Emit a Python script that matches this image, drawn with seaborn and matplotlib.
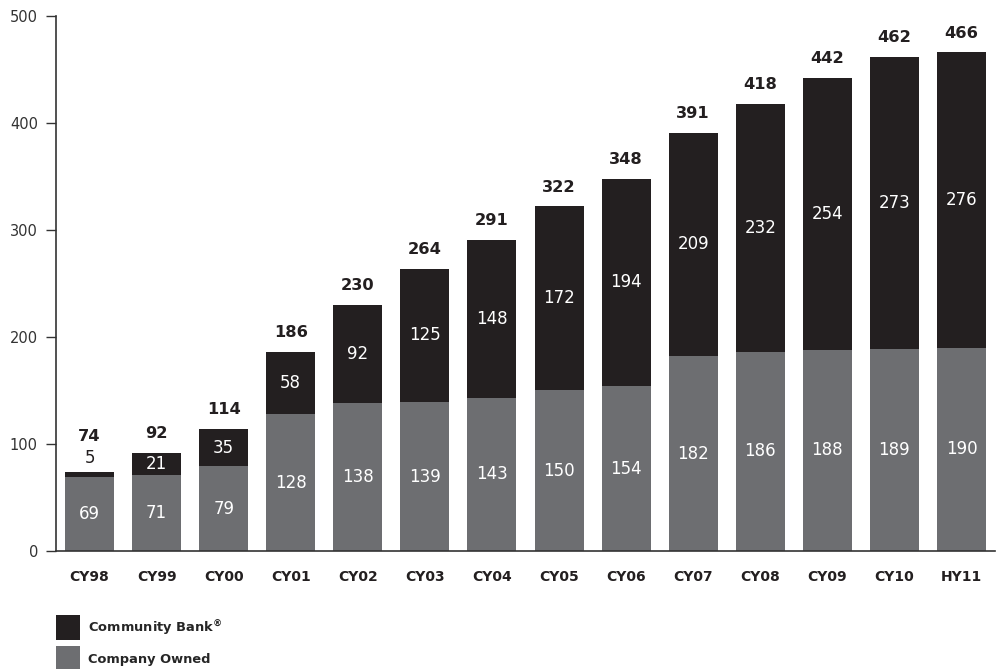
import matplotlib
matplotlib.use("Agg")
import matplotlib.pyplot as plt
import seaborn as sns
import numpy as np
import pandas as pd
from matplotlib.patches import Patch

categories = ["CY98", "CY99", "CY00", "CY01", "CY02", "CY03", "CY04",
              "CY05", "CY06", "CY07", "CY08", "CY09", "CY10", "HY11"]
company_owned = [69, 71, 79, 128, 138, 139, 143, 150, 154, 182, 186, 188, 189, 190]
community_bank = [5, 21, 35, 58, 92, 125, 148, 172, 194, 209, 232, 254, 273, 276]
totals = [74, 92, 114, 186, 230, 264, 291, 322, 348, 391, 418, 442, 462, 466]
y_ticks = [0, 100, 200, 300, 400, 500]
legend_labels = [r"Community Bank$^{\mathregular{®}}$", "Company Owned"]

BLACK = "#231f20"
GRAY = "#6d6e71"
TXT = "#333333"

sns.set_style("white")
plt.rcParams['font.family'] = ['DejaVu Sans']

df = pd.DataFrame({"cat": categories, "co": company_owned, "cb": community_bank,
                   "total": [a + b for a, b in zip(company_owned, community_bank)]})

fig = plt.figure(figsize=(9.96, 6.69), dpi=100)
ax = fig.add_axes([0.0562, 0.1764, 0.9428, 0.7997])

sns.barplot(data=df, x="cat", y="total", color=BLACK, saturation=1, width=0.73,
            linewidth=0, edgecolor="none", ax=ax)
sns.barplot(data=df, x="cat", y="co", color=GRAY, saturation=1, width=0.73,
            linewidth=0, edgecolor="none", ax=ax)

for i, (co, cb, tot) in enumerate(zip(company_owned, community_bank, totals)):
    ax.text(i, co / 2, str(co), ha="center", va="center", color="white", fontsize=12)
    if cb < 10:
        ax.text(i, co + cb + 13, str(cb), ha="center", va="center", color=BLACK, fontsize=12)
        ax.text(i, co + cb + 33, str(tot), ha="center", va="center", color=BLACK,
                fontsize=11.7, fontweight="bold")
    else:
        ax.text(i, co + cb / 2, str(cb), ha="center", va="center", color="white", fontsize=12)
        ax.text(i, co + cb + 18, str(tot), ha="center", va="center", color=BLACK,
                fontsize=11.7, fontweight="bold")

ax.set_xlim(-0.5, len(categories) - 0.5)
ax.set_ylim(0, 500)
ax.set_yticks(y_ticks)
ax.set_yticklabels([str(t) for t in y_ticks], fontsize=10.5, color=TXT)
ax.set_xticks(range(len(categories)))
ax.set_xticklabels(categories, fontsize=10, fontweight="bold", color=BLACK)
ax.set_xticks(np.arange(0.5, len(categories) - 0.5, 1), minor=True)
ax.tick_params(axis="x", which="major", length=0, pad=14)
ax.tick_params(axis="x", which="minor", length=6, direction="in", width=1, color="#333333")
ax.tick_params(axis="y", which="major", length=7, direction="out", width=1,
               color="#333333", pad=6, left=True)
ax.set_xlabel("")
ax.set_ylabel("")
for s in ["top", "right"]:
    ax.spines[s].set_visible(False)
for s in ["left", "bottom"]:
    ax.spines[s].set_color("#333333")
    ax.spines[s].set_linewidth(1.2)

handles = [Patch(facecolor=BLACK, edgecolor="none", label=legend_labels[0]),
           Patch(facecolor=GRAY, edgecolor="none", label=legend_labels[1])]
leg = fig.legend(handles=handles, loc="upper left", bbox_to_anchor=(0.0562, 0.08),
                 frameon=False, prop={"weight": "bold", "size": 9.4},
                 handlelength=1.85, handleheight=2.55, handletextpad=0.6,
                 labelspacing=0.45, borderaxespad=0, borderpad=0)

fig.savefig("out.png", dpi=100)
